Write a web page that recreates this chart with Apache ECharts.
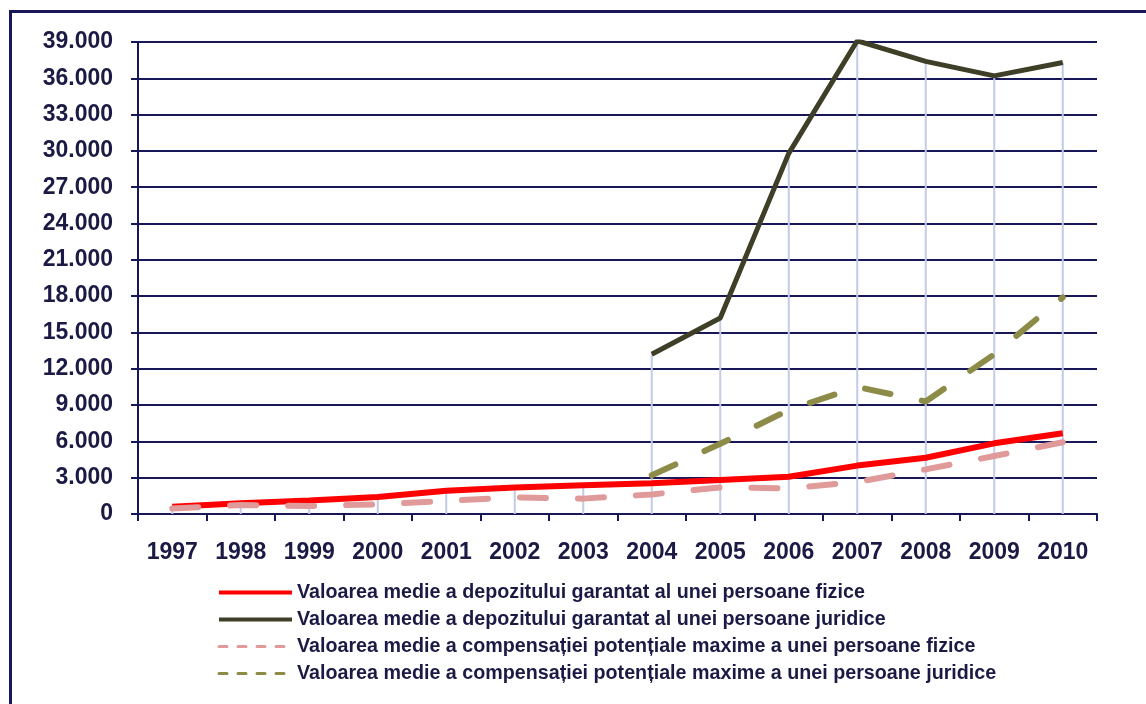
<!DOCTYPE html>
<html>
<head>
<meta charset="utf-8">
<script src="https://cdn.jsdelivr.net/npm/echarts@6/dist/echarts.min.js"></script>
<style>
  html, body { margin: 0; padding: 0; background: #ffffff; }
  #chart { width: 1146px; height: 704px; }
</style>
</head>
<body>
<div id="chart"></div>
<script>
// Years on the category axis
const years = ['1997', '1998', '1999', '2000', '2001', '2002', '2003',
               '2004', '2005', '2006', '2007', '2008', '2009', '2010'];

// Average guaranteed deposit, natural persons (lei)
const depozitFizice = [600, 880, 1120, 1400, 1930, 2180, 2370, 2540, 2810, 3080, 4000, 4650, 5840, 6670];
// Average guaranteed deposit, legal persons (lei)
const depozitJuridice = [null, null, null, null, null, null, null, 13200, 16200, 29800, 39100, 37400, 36200, 37300];
// Average maximum potential compensation, natural persons (lei)
const compensatieFizice = [460, 740, 660, 800, 1080, 1380, 1270, 1620, 2200, 2120, 2640, 3690, 4790, 5930];
// Average maximum potential compensation, legal persons (lei)
const compensatieJuridice = [null, null, null, null, null, null, null, 3200, 5800, 8600, 10500, 9300, 13200, 17900];

const seriesNames = [
  'Valoarea medie a depozitului garantat al unei persoane fizice',
  'Valoarea medie a depozitului garantat al unei persoane juridice',
  'Valoarea medie a compensației potențiale maxime a unei persoane fizice',
  'Valoarea medie a compensației potențiale maxime a unei persoane juridice'
];

// Drop lines run from the highest value of each year down to the axis
const dropLines = years.map((_, i) =>
  Math.max(...[depozitFizice[i], depozitJuridice[i], compensatieFizice[i], compensatieJuridice[i]]
    .filter(v => v !== null)));

const navy = '#17175a';
const textColor = '#1a1a44';
const dashPattern = [26, 32];

const chart = echarts.init(document.getElementById('chart'), null, { renderer: 'canvas' });

chart.setOption({
  backgroundColor: '#ffffff',
  animation: false,
  textStyle: { fontFamily: "'Liberation Sans', Arial, sans-serif" },
  graphic: [{
    type: 'rect',
    shape: { x: 10.5, y: 11.5, width: 1300, height: 900 },
    style: { fill: 'none', stroke: navy, lineWidth: 3 },
    silent: true,
    z: 100
  }],
  grid: { left: 138, right: 49, top: 42, bottom: 190 },
  xAxis: {
    type: 'category',
    data: years,
    boundaryGap: true,
    axisLine: { lineStyle: { color: navy, width: 2 } },
    axisTick: { show: true, length: 7, lineStyle: { color: navy, width: 2 } },
    axisLabel: { color: textColor, fontSize: 23, fontWeight: 'bold', margin: 27 }
  },
  yAxis: {
    type: 'value',
    min: 0,
    max: 39000,
    interval: 3000,
    axisLine: { show: true, lineStyle: { color: navy, width: 2 } },
    axisTick: { show: true, length: 7, lineStyle: { color: navy, width: 2 } },
    splitLine: { lineStyle: { color: navy, width: 2 } },
    axisLabel: {
      color: textColor,
      fontSize: 23,
      fontWeight: 'bold',
      margin: 25,
      formatter: v => String(v).replace(/\B(?=(\d{3})+(?!\d))/g, '.')
    }
  },
  legend: {
    orient: 'vertical',
    left: 212,
    top: 574,
    itemWidth: 73,
    itemHeight: 14,
    itemGap: 0,
    itemStyle: { opacity: 0 },
    textStyle: {
      fontSize: 19.7,
      fontWeight: 'bold',
      lineHeight: 27,
      color: textColor
    },
    data: [
      { name: seriesNames[0], lineStyle: { width: 4 } },
      { name: seriesNames[1], lineStyle: { width: 4 } },
      { name: seriesNames[2], lineStyle: { width: 3, type: [8, 11] } },
      { name: seriesNames[3], lineStyle: { width: 3, type: [8, 11] } }
    ]
  },
  series: [
    {
      name: 'drop',
      type: 'bar',
      data: dropLines,
      barWidth: 2,
      silent: true,
      z: 1,
      itemStyle: { color: '#c3cbe6' }
    },
    {
      name: seriesNames[0],
      type: 'line',
      data: depozitFizice,
      symbol: 'none',
      z: 3,
      itemStyle: { color: '#ff0000' },
      lineStyle: { color: '#ff0000', width: 6 }
    },
    {
      name: seriesNames[1],
      type: 'line',
      data: depozitJuridice,
      symbol: 'none',
      z: 3,
      itemStyle: { color: '#3f3f28' },
      lineStyle: { color: '#3f3f28', width: 5 }
    },
    {
      name: seriesNames[2],
      type: 'line',
      data: compensatieFizice,
      symbol: 'none',
      z: 4,
      itemStyle: { color: '#e09a9a' },
      lineStyle: { color: '#e09a9a', width: 6, type: dashPattern, cap: 'round' }
    },
    {
      name: seriesNames[3],
      type: 'line',
      data: compensatieJuridice,
      symbol: 'none',
      z: 4,
      itemStyle: { color: '#8c8c48' },
      lineStyle: { color: '#8c8c48', width: 6, type: dashPattern, cap: 'round' }
    }
  ]
});
</script>
</body>
</html>
